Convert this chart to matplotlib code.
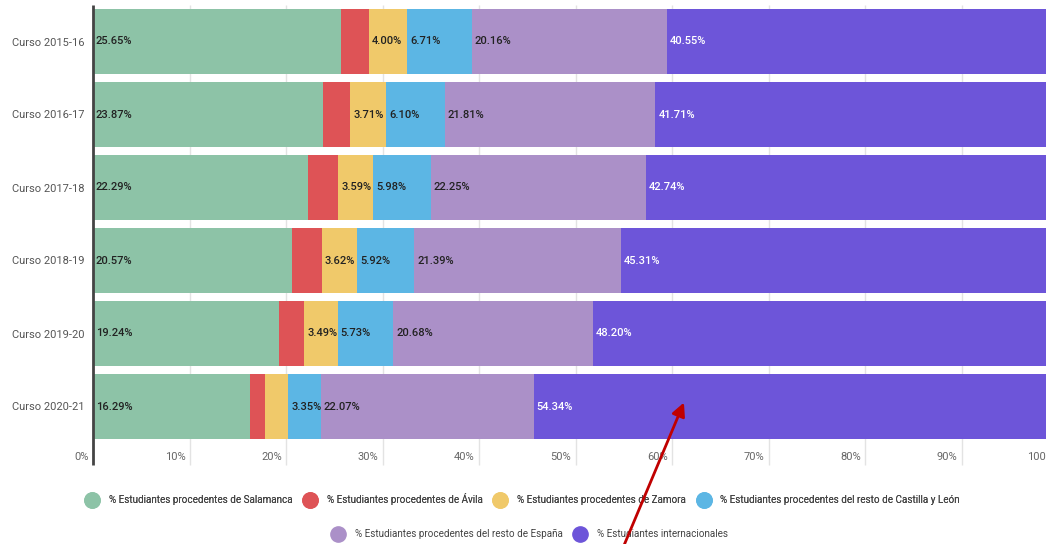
import matplotlib
matplotlib.use("Agg")
import matplotlib.pyplot as plt
import matplotlib.transforms as mtransforms
from matplotlib.lines import Line2D
import numpy as np

plt.rcParams["font.family"] = ["Roboto", "DejaVu Sans"]

# ── Data ─────────────────────────────────────────────────────────────────
cursos = ["Curso 2015-16", "Curso 2016-17", "Curso 2017-18",
          "Curso 2018-19", "Curso 2019-20", "Curso 2020-21"]

series_names = [
    "% Estudiantes procedentes de Salamanca",
    "% Estudiantes procedentes de Ávila",
    "% Estudiantes procedentes de Zamora",
    "% Estudiantes procedentes del resto de Castilla y León",
    "% Estudiantes procedentes del resto de España",
    "% Estudiantes internacionales",
]

salamanca = [25.65, 23.87, 22.29, 20.57, 19.24, 16.29]
avila = [2.93, 2.80, 3.15, 3.19, 2.66, 1.50]
zamora = [4.00, 3.71, 3.59, 3.62, 3.49, 2.45]
resto_cyl = [6.71, 6.10, 5.98, 5.92, 5.73, 3.35]
resto_espana = [20.16, 21.81, 22.25, 21.39, 20.68, 22.07]
internacionales = [40.55, 41.71, 42.74, 45.31, 48.20, 54.34]

x_ticks = [0, 10, 20, 30, 40, 50, 60, 70, 80, 90, 100]
x_tick_labels = [f"{t}%" for t in x_ticks]

colors = ["#8dc3a7", "#de5356", "#f0c96a", "#5cb6e4", "#ab90c8", "#6d55d9"]
label_colors = ["#222222"] * 5 + ["#ffffff"]
min_label = 3.3  # narrower segments are not labelled

# ── Figure ───────────────────────────────────────────────────────────────
W, H = 1046, 544
fig = plt.figure(figsize=(W / 100, H / 100), dpi=100)
# axes run slightly past the right edge (100% is cut off in the original)
ax = fig.add_axes([93 / W, 1 - 443 / H, 965 / W, 438 / H])

series = [salamanca, avila, zamora, resto_cyl, resto_espana, internacionales]
y = np.arange(len(cursos))
left = np.zeros(len(cursos))
for vals, col, tcol in zip(series, colors, label_colors):
    vals = np.array(vals)
    ax.barh(y, vals, left=left, height=0.89, color=col, zorder=2)
    for yi, (l, v) in enumerate(zip(left, vals)):
        if v >= min_label:
            ax.annotate(f"{v:.2f}%", (l, yi), xytext=(2, 0),
                        textcoords="offset points", ha="left", va="center",
                        fontsize=8, color=tcol, fontweight="medium", zorder=3)
    left += vals

ax.set_xlim(0, 100)
ax.set_ylim(len(cursos) - 0.5, -0.5)

# gridlines extend below the plot, labels sit left of them
trans = mtransforms.blended_transform_factory(ax.transData, ax.transAxes)
ax.vlines(x_ticks[1:], -0.05, 1.0, transform=trans, colors="#e3e3e3",
          linewidth=1, zorder=0, clip_on=False)
ax.plot([0, 0], [-0.05, 1.0], transform=trans, color="#444444",
        linewidth=2, zorder=4, clip_on=False, solid_capstyle="butt")
for t, lab in zip(x_ticks, x_tick_labels):
    ax.annotate(lab, (t, -0.033), xycoords=trans, xytext=(-3, 0),
                textcoords="offset points", ha="right", va="center",
                fontsize=8, color="#666666", annotation_clip=False)

ax.set_xticks([])
ax.set_yticks(y)
ax.set_yticklabels(cursos, fontsize=8, color="#555555")
ax.tick_params(axis="y", length=0, pad=6)
for s in ax.spines.values():
    s.set_visible(False)

# ── Legend (two centred rows) ────────────────────────────────────────────
handles = [Line2D([], [], marker="o", linestyle="", markersize=11,
                  markerfacecolor=c, markeredgecolor=c) for c in colors]
leg_kw = dict(frameon=False, loc="center", fontsize=7.1, handletextpad=0.7,
              columnspacing=0.8, labelcolor="#444444")
leg1 = fig.legend(handles[:4], series_names[:4], ncol=4,
                  bbox_to_anchor=(521 / W, 1 - 499 / H), **leg_kw)
fig.legend(handles[4:], series_names[4:], ncol=2,
           bbox_to_anchor=(528 / W, 1 - 534 / H), **leg_kw)
fig.add_artist(leg1)

# ── Red arrow annotation ─────────────────────────────────────────────────
fig.add_artist(matplotlib.patches.FancyArrowPatch(
    (620 / W, -0.02), (685 / W, 1 - 400 / H), transform=fig.transFigure,
    arrowstyle="-|>,head_length=8,head_width=4", color="#c00000",
    linewidth=2, zorder=10))

fig.savefig("out.png", dpi=100)
